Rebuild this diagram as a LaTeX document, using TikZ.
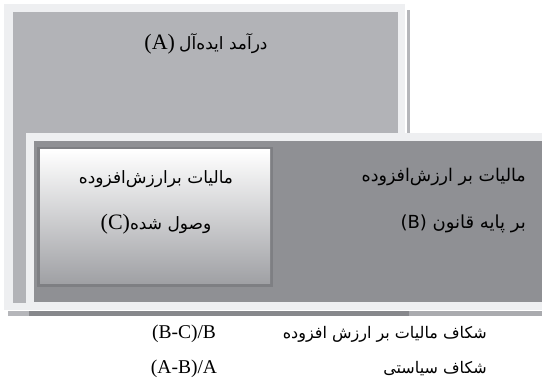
\documentclass[tikz,border=0pt]{standalone}
\usepackage{fontspec}
\setmainfont{Liberation Serif}
\newfontfamily\farsi[Script=Arabic]{DejaVu Sans}
\TeXXeTstate=1
\usetikzlibrary{positioning}
\definecolor{rimgray}{HTML}{EEEFF1}
\definecolor{agray}{HTML}{B2B3B7}
\definecolor{bgray}{HTML}{8F9094}
\definecolor{cgray}{HTML}{7E7F83}
\definecolor{cbottom}{HTML}{9FA0A4}
\definecolor{shadowA}{HTML}{B5B6BA}
\definecolor{shadowB}{HTML}{AAABAF}
\definecolor{shadowAB}{HTML}{87888C}
\newcommand{\latinbig}{\fontsize{22pt}{24pt}\selectfont}
\newcommand{\farsibox}{\farsi\fontsize{17pt}{20pt}\selectfont}

\begin{document}
\begin{tikzpicture}[x=1pt,y=-1pt,
rim/.style={fill=rimgray, draw=none}, % light outer frames
boxA/.style={fill=agray, draw=none}, % ideal income
boxB/.style={fill=bgray, draw=none}, % legal VAT
boxC/.style={fill=cgray, draw=none}, % collected VAT, border
shadeC/.style={top color=white, bottom color=cbottom}, % collected VAT, inside
lbl/.style={inner sep=0pt, font=\fontsize{17pt}{20pt}\selectfont}, % box texts
gaplbl/.style={inner sep=0pt, font=\farsi\fontsize{16pt}{20pt}\selectfont}, % gap names
ratio/.style={inner sep=0pt, font=\fontsize{19.5pt}{22pt}\selectfont} % gap formulas
]
\useasboundingbox (0,0) rectangle (542,387);

% shadows
\fill[shadowA] (407,10) rectangle (410,133);
\fill[shadowA] (8,311) rectangle (409,316);
\fill[shadowB] (29,311) rectangle (542,316);
\fill[shadowAB] (29,311) rectangle (409,316);

% A
\fill[rim] (4,4) rectangle (405,310);
\fill[boxA] (13,12) rectangle (398,303);
\node[lbl] (labelA) at (206,44) {{\latinbig(A)}\ {\farsibox\beginR درآمد ایده^^^^200cآل\endR}};

% B
\fill[rim] (26,133) rectangle (542,310);
\fill[boxB] (34,141) rectangle (542,302);
\node[lbl, anchor=east] (labelBtop) at (526,177) {\farsi\fontsize{17.5pt}{20pt}\selectfont\beginR مالیات بر ارزش^^^^200cافزوده\endR};
\node[lbl, anchor=east] (labelBbot) at (526,224) {\farsi\fontsize{18pt}{20pt}\selectfont (B) \beginR بر پایه قانون\endR};

% C
\fill[boxC] (37,147) rectangle (273,287);
\shade[shadeC] (40,150) rectangle (270,284);
\node[lbl] (labelCtop) at (156,179) {\farsibox\beginR مالیات برارزش^^^^200cافزوده\endR};
\node[lbl] (labelCbot) at (156,224) {{\latinbig(C)}{\farsibox\beginR وصول شده\endR}};

% gaps
\node[ratio] (ratioVAT) at (184,334) {(B-C)/B};
\node[gaplbl, anchor=east] (gapVAT) at (487,334) {\beginR شکاف مالیات بر ارزش افزوده\endR};
\node[ratio] (ratioPolicy) at (184,369) {(A-B)/A};
\node[gaplbl, anchor=east] (gapPolicy) at (487,369) {\beginR شکاف سیاستی\endR};

\end{tikzpicture}
\end{document}
